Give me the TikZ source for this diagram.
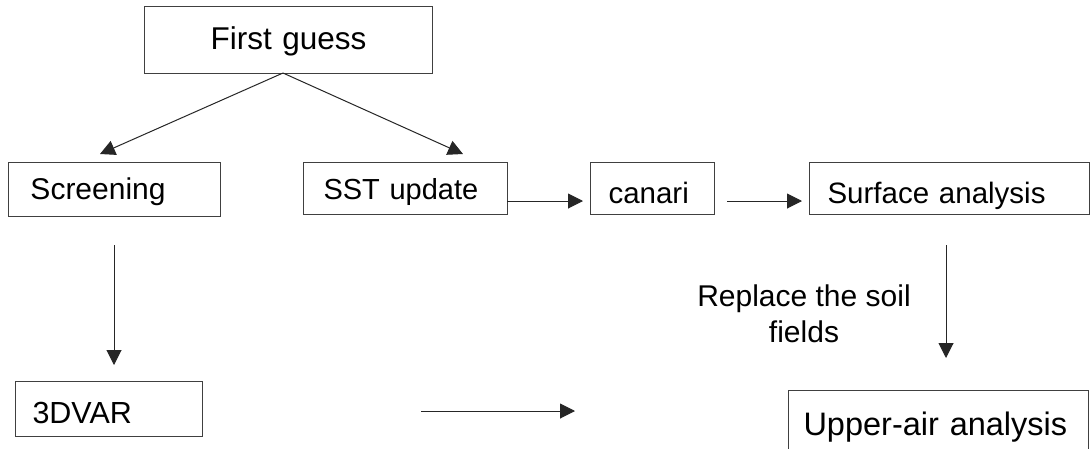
\documentclass[tikz,border=0pt]{standalone}
\usepackage{fontspec}
\setmainfont{Liberation Sans}
\usetikzlibrary{arrows.meta}
\newcommand\fsz[1]{\fontsize{#1}{#1}\selectfont}
\tikzset{
  box/.style={draw=black!75, line width=1pt, anchor=north west, inner ysep=0pt, text depth=0pt, align=left},
  arr/.style={draw=black!85, line width=1pt, -{Triangle[length=15pt,width=15pt]}}
}
\begin{document}
\begin{tikzpicture}[x=1pt,y=-1pt]
\clip (0,0) rectangle (1090,448);
\fill[white] (0,0) rectangle (1090,448);
% boxes
\node[box, align=center, minimum width=288, minimum height=67, inner xsep=0pt, text width=288, text height=19, font=\fsz{31.5}] (fg) at (144,6) {First guess};
\node[box, minimum width=212, minimum height=54, inner xsep=22pt, text width=168, text height=20, font=\fsz{30}] (scr) at (8,162) {Screening};
\node[box, minimum width=204, minimum height=52, inner xsep=20pt, text width=164, text height=22, font=\fsz{29}] (sst) at (303,162) {SST update};
\node[box, minimum width=124, minimum height=52, inner xsep=18pt, text width=88, text height=30, font=\fsz{29.5}] (can) at (590,162) {canari};
\node[box, minimum width=280, minimum height=52, inner xsep=18pt, text width=244, text height=30, font=\fsz{29.5}] (surf) at (809,162) {Surface analysis};
\node[box, minimum width=187, minimum height=55, inner xsep=17pt, text width=153, text height=29, font=\fsz{30.5}] (var) at (15,381) {3DVAR};
\node[box, minimum width=300, minimum height=63, inner xsep=15pt, text width=270, text height=27, font=\fsz{32.5}] (upa) at (788,390) {Upper-air analysis};
% label
\node[align=center, inner sep=0pt, font=\fontsize{30}{36}\selectfont] (rep) at (804,314) {Replace the soil\\fields};
% connector coordinates
\coordinate (apex) at (283,73);
\coordinate (t1) at (100,154);
\coordinate (t2) at (463,154);
\coordinate (s1) at (507,201);
\coordinate (e1) at (583,201);
\coordinate (s2) at (727,201);
\coordinate (e2) at (802,201);
\coordinate (s3) at (114,245);
\coordinate (e3) at (114,365);
\coordinate (s4) at (946,245);
\coordinate (e4) at (946,358);
\coordinate (s5) at (421,411);
\coordinate (e5) at (575,411);
% connectors
\draw[arr] (apex) -- (t1);
\draw[arr] (apex) -- (t2);
\draw[arr] (s1) -- (e1);
\draw[arr] (s2) -- (e2);
\draw[arr] (s3) -- (e3);
\draw[arr] (s4) -- (e4);
\draw[arr] (s5) -- (e5);
\end{tikzpicture}
\end{document}
